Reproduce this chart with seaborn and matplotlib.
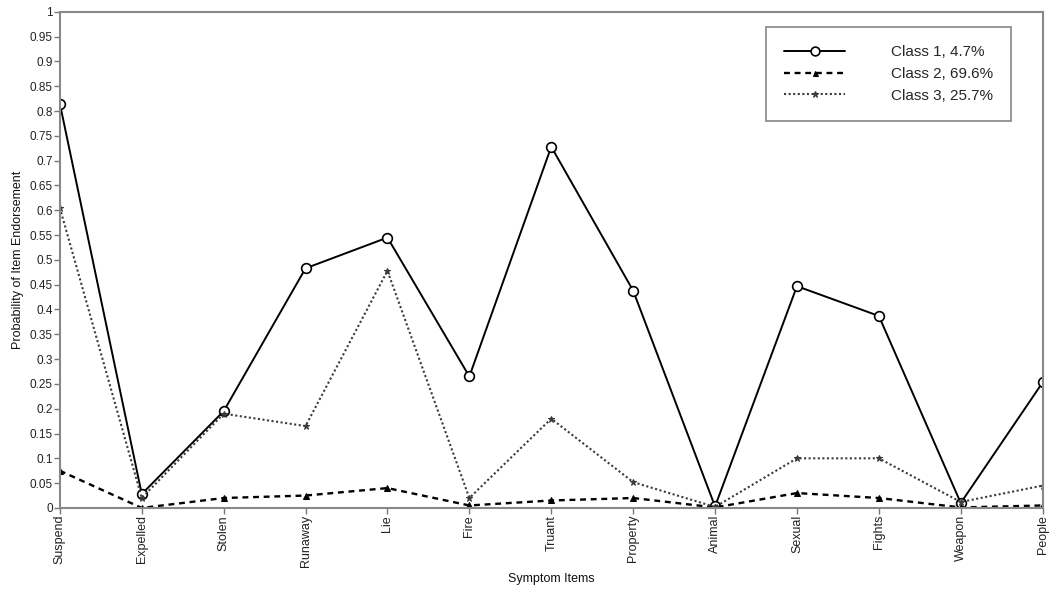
import matplotlib
matplotlib.use("Agg")
import matplotlib.pyplot as plt
import seaborn as sns
import numpy as np

# Symptom items on the x axis
items = ["Suspend", "Expelled", "Stolen", "Runaway", "Lie", "Fire", "Truant",
         "Property", "Animal", "Sexual", "Fights", "Weapon", "People"]

# Probability of endorsement per latent class
class1 = [0.815, 0.028, 0.195, 0.483, 0.545, 0.265, 0.728, 0.438, 0.003, 0.447, 0.387, 0.010, 0.253]
class2 = [0.075, 0.000, 0.020, 0.025, 0.040, 0.005, 0.015, 0.020, 0.001, 0.030, 0.020, 0.001, 0.005]
class3 = [0.605, 0.020, 0.190, 0.165, 0.478, 0.020, 0.180, 0.052, 0.002, 0.100, 0.100, 0.012, 0.045]

labels = ["Class 1, 4.7%", "Class 2, 69.6%", "Class 3, 25.7%"]

sns.set_style("white")
plt.rcParams['font.family'] = ['Liberation Sans', 'DejaVu Sans']

fig = plt.figure(figsize=(10.5, 5.92), dpi=100)
ax = fig.add_axes([0.057, 0.142, 0.936, 0.838])

x = np.arange(len(items))

sns.lineplot(x=x, y=class1, ax=ax, color="black", linewidth=1.4, marker="o",
             markersize=7, markerfacecolor="white", markeredgecolor="black",
             markeredgewidth=1.2, label=labels[0], sort=False)
sns.lineplot(x=x, y=class2, ax=ax, color="black", linewidth=1.7, marker="^",
             markersize=4, markeredgecolor="black", label=labels[1], sort=False)
ax.lines[-1].set_dashes((2.5, 2))
sns.lineplot(x=x, y=class3, ax=ax, color="#3a3a3a", linewidth=1.5, marker="*",
             markersize=5, markeredgecolor="#3a3a3a", label=labels[2], sort=False)
ax.lines[-1].set_dashes((1, 1.2))

ax.set_xlim(0, len(items) - 1)
ax.set_ylim(0, 1)
yt = np.arange(0, 1.0001, 0.05).round(2)
ax.set_yticks(yt)
ax.set_yticklabels([f"{v:g}" for v in yt], fontsize=8.5, color="#222222")
ax.set_xticks(x)
ax.set_xticklabels(items, rotation=90, fontsize=9, color="#222222")
ax.tick_params(axis="both", which="both", direction="out", length=4, width=1,
               color="#777777", left=True, bottom=True, pad=1)

for s in ax.spines.values():
    s.set_color("#888888")
    s.set_linewidth(1.5)

ax.set_xlabel("Symptom Items", fontsize=9, color="#111111", labelpad=4)
ax.set_ylabel("Probability of Item Endorsement", fontsize=9, color="#111111", labelpad=4)

leg = ax.legend(loc="upper right", bbox_to_anchor=(0.976, 0.985), fontsize=11,
                frameon=True, fancybox=False, handlelength=4, handletextpad=3,
                borderpad=1.2, labelspacing=0.5, markerscale=0.9)
leg.get_frame().set_edgecolor("#666666")
leg.get_frame().set_linewidth(1.2)

fig.savefig("out.png", dpi=100)
